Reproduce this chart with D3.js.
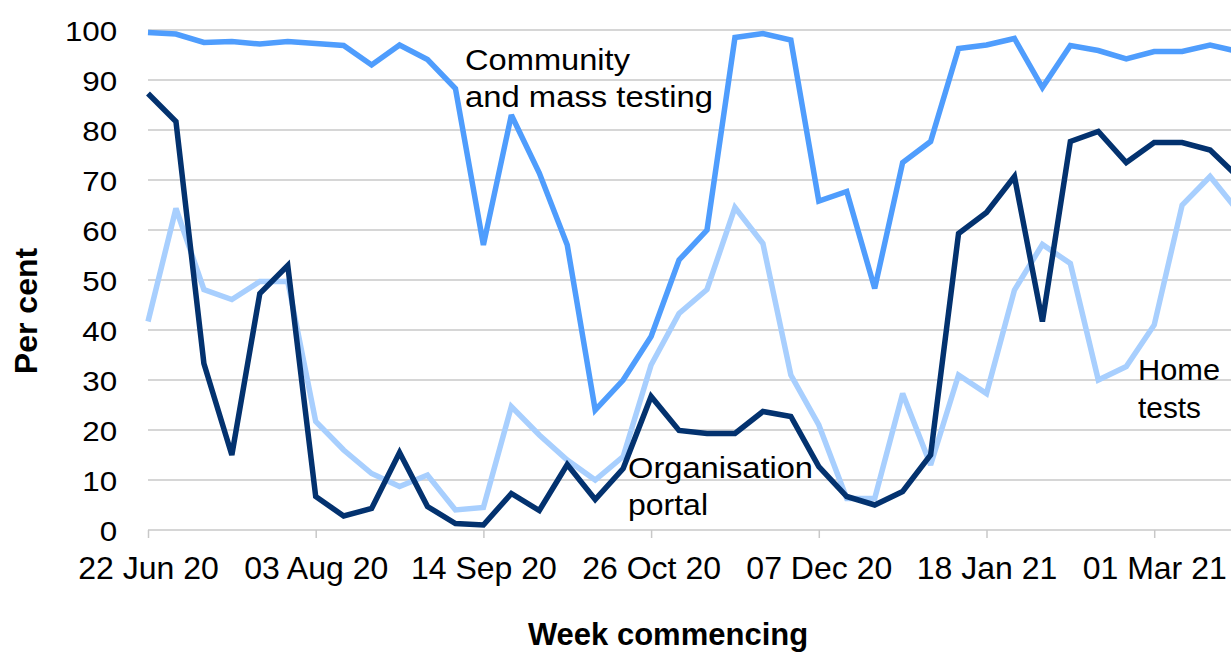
<!DOCTYPE html>
<html>
<head>
<meta charset="utf-8">
<script src="https://cdn.jsdelivr.net/npm/d3@7"></script>
<style>
  html, body { margin: 0; padding: 0; background: #ffffff; }
  svg { display: block; }
  text { font-family: "Liberation Sans", Arial, Helvetica, sans-serif; fill: #000; }
</style>
</head>
<body>
<svg id="chart" width="1231" height="654"></svg>
<script>
// ---- Data ----
const weeks = [
  "22 Jun 20","29 Jun 20","06 Jul 20","13 Jul 20","20 Jul 20","27 Jul 20",
  "03 Aug 20","10 Aug 20","17 Aug 20","24 Aug 20","31 Aug 20","07 Sep 20",
  "14 Sep 20","21 Sep 20","28 Sep 20","05 Oct 20","12 Oct 20","19 Oct 20",
  "26 Oct 20","02 Nov 20","09 Nov 20","16 Nov 20","23 Nov 20","30 Nov 20",
  "07 Dec 20","14 Dec 20","21 Dec 20","28 Dec 20","04 Jan 21","11 Jan 21",
  "18 Jan 21","25 Jan 21","01 Feb 21","08 Feb 21","15 Feb 21","22 Feb 21",
  "01 Mar 21","08 Mar 21","15 Mar 21","22 Mar 21"
];
const tickLabels = ["22 Jun 20","03 Aug 20","14 Sep 20","26 Oct 20","07 Dec 20","18 Jan 21","01 Mar 21"];
const yTicks = [0,10,20,30,40,50,60,70,80,90,100];

const community = [99.5, 99.2, 97.5, 97.7, 97.2, 97.7, 97.3, 96.9, 93.0, 97.0,
  94.1, 88.3, 57.0, 83.0, 71.4, 57.0, 24.0, 30.0, 38.7, 54.0,
  60.0, 98.5, 99.3, 98.0, 65.8, 67.7, 48.3, 73.5, 77.7, 96.3,
  97.0, 98.3, 88.5, 96.9, 95.9, 94.2, 95.7, 95.7, 97.0, 95.7];
const portal = [87.3, 81.7, 33.3, 15.0, 47.3, 52.9, 6.7, 2.8, 4.3, 15.5,
  4.7, 1.3, 1.0, 7.3, 3.9, 13.1, 6.1, 12.3, 26.7, 19.9,
  19.3, 19.3, 23.7, 22.7, 12.7, 6.7, 5.0, 7.7, 15.0, 59.3,
  63.5, 70.7, 41.7, 77.7, 79.7, 73.5, 77.5, 77.5, 76.0, 70.6];
const home = [41.7, 64.3, 48.1, 46.1, 49.7, 49.7, 21.7, 16.0, 11.3, 8.7,
  11.0, 4.0, 4.5, 24.7, 19.0, 14.0, 10.0, 14.7, 33.0, 43.3,
  48.1, 64.5, 57.3, 31.0, 21.0, 6.3, 6.3, 27.3, 13.0, 31.0,
  27.3, 48.0, 57.1, 53.3, 30.0, 32.7, 41.0, 65.0, 70.7, 63.8];

const seriesNames = ["Home tests", "Community and mass testing", "Organisation portal"];
const seriesValues = [home, community, portal];
const seriesColors = ["#a8cffe", "#4f9dfd", "#03326f"];

// ---- Layout ----
const svg = d3.select("#chart");
const plotLeft = 148, plotTop = 30, plotBottom = 530, svgW = 1231;
const step = 27.95;
const plotRight = plotLeft + (weeks.length - 1) * step;

const x = d3.scalePoint().domain(weeks).range([plotLeft, plotRight]);
const y = d3.scaleLinear().domain([0, 100]).range([plotBottom, plotTop]);

// gridlines
svg.append("g")
  .selectAll("line")
  .data(yTicks.filter(d => d > 0))
  .join("line")
  .attr("x1", plotLeft).attr("x2", svgW)
  .attr("y1", d => y(d)).attr("y2", d => y(d))
  .attr("stroke", "#c8c8c8").attr("stroke-width", 1.5);

// y axis (labels only)
const yAxis = svg.append("g")
  .attr("transform", `translate(${plotLeft},0)`)
  .call(d3.axisLeft(y).tickValues(yTicks).tickSize(0).tickPadding(0));
yAxis.select(".domain").remove();
yAxis.selectAll("text")
  .attr("x", -27.5)
  .attr("dy", "0.38em")
  .attr("transform", "scale(1.12,1)")
  .style("font-size", "28px")
  .style("font-family", "'Liberation Sans', Arial, sans-serif")
  .attr("fill", "#000");

// x axis
const xAxis = svg.append("g")
  .attr("transform", `translate(0,${plotBottom})`)
  .call(d3.axisBottom(x)
    .tickValues(tickLabels)
    .tickSize(8)
    .tickSizeOuter(0)
    .tickFormat(d => d));
xAxis.select(".domain")
  .attr("d", `M${plotLeft},0H${svgW}`)
  .attr("stroke", "#c8c8c8").attr("stroke-width", 1.5);
xAxis.selectAll(".tick line").attr("stroke", "#c8c8c8").attr("stroke-width", 1.5);
xAxis.selectAll("text")
  .attr("y", 49).attr("dy", 0)
  .style("font-size", "32px")
  .style("font-family", "'Liberation Sans', Arial, sans-serif")
  .attr("fill", "#000");

// lines
const line = d3.line()
  .x((d, i) => x(weeks[i]))
  .y(d => y(d));

svg.append("g")
  .selectAll("path")
  .data(seriesValues)
  .join("path")
  .attr("d", d => line(d))
  .attr("fill", "none")
  .attr("stroke", (d, i) => seriesColors[i])
  .attr("stroke-width", 5.5)
  .attr("stroke-linejoin", "miter")
  .attr("stroke-miterlimit", 2.5)
  .attr("stroke-linecap", "butt");

// annotations
const annotations = [
  { lines: ["Community", "and mass testing"], widths: [165, 248], x: 465, y: [69.5, 106.5] },
  { lines: ["Organisation", "portal"], widths: [185, 80], x: 628, y: [478, 515] },
  { lines: ["Home", "tests"], widths: [82, 63], x: 1138, y: [380, 418] }
];
annotations.forEach(a => {
  a.lines.forEach((t, i) => {
    svg.append("text")
      .attr("x", a.x).attr("y", a.y[i])
      .attr("textLength", a.widths[i])
      .attr("lengthAdjust", "spacingAndGlyphs")
      .style("font-size", "29px")
      .text(t);
  });
});

// axis titles
svg.append("text")
  .attr("transform", "translate(37,311) rotate(-90)")
  .attr("text-anchor", "middle")
  .style("font-size", "32px")
  .style("font-weight", "bold")
  .text("Per cent");

svg.append("text")
  .attr("x", 668).attr("y", 645)
  .attr("text-anchor", "middle")
  .style("font-size", "31px")
  .style("font-weight", "bold")
  .text("Week commencing");
</script>
</body>
</html>
